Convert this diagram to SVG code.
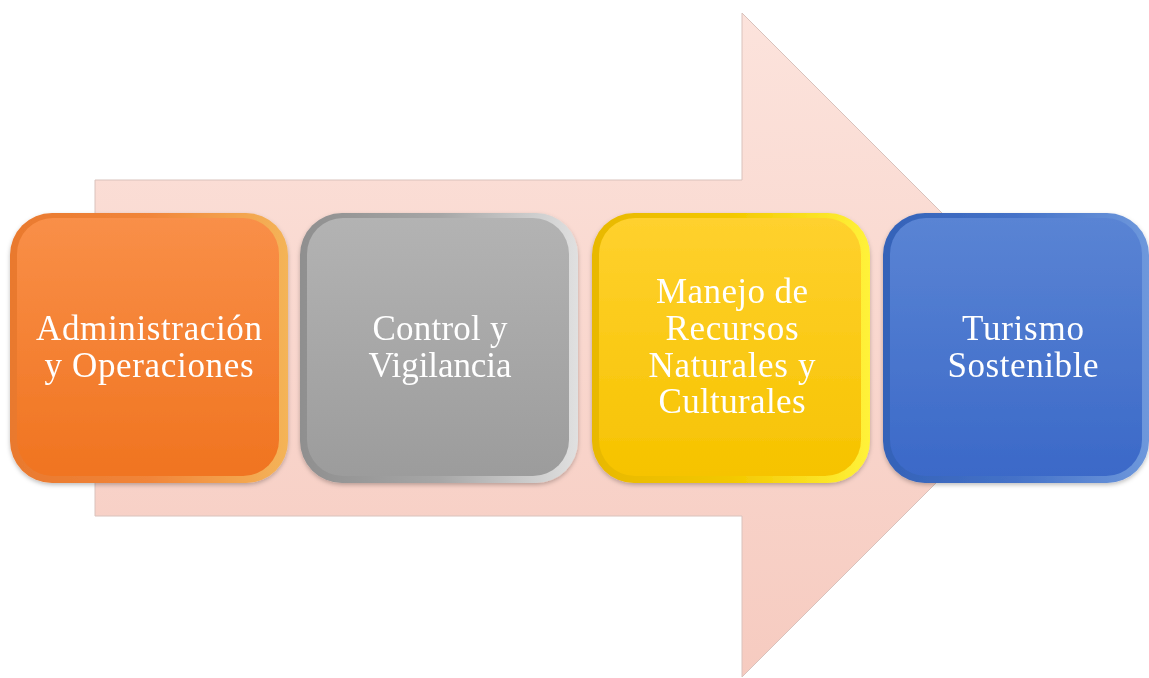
<svg xmlns="http://www.w3.org/2000/svg" width="1149" height="678" viewBox="0 0 1149 678">
<style>
.lbl{font-family:"Liberation Serif","DejaVu Serif",serif;font-size:35px;fill:#ffffff;text-anchor:middle}
</style>
<defs>
<linearGradient id="arrowG" x1="0" y1="0" x2="0" y2="1">
<stop offset="0" stop-color="#fce3dc"/><stop offset="1" stop-color="#f6cbc0"/>
</linearGradient>
<linearGradient id="orG" x1="0" y1="0" x2="0" y2="1"><stop offset="0" stop-color="#f98f48"/><stop offset="1" stop-color="#f07420"/></linearGradient>
<linearGradient id="orR" x1="0" y1="0" x2="1" y2="0"><stop offset="0" stop-color="#e9792e"/><stop offset="0.5" stop-color="#f1853a"/><stop offset="1" stop-color="#f4b458"/></linearGradient>
<linearGradient id="grG" x1="0" y1="0" x2="0" y2="1"><stop offset="0" stop-color="#b3b3b3"/><stop offset="1" stop-color="#9c9c9c"/></linearGradient>
<linearGradient id="grR" x1="0" y1="0" x2="1" y2="0"><stop offset="0" stop-color="#8f8f8f"/><stop offset="0.5" stop-color="#a6a6a6"/><stop offset="1" stop-color="#e0e0e0"/></linearGradient>
<linearGradient id="yeG" x1="0" y1="0" x2="0" y2="1"><stop offset="0" stop-color="#ffd12e"/><stop offset="1" stop-color="#f6c300"/></linearGradient>
<linearGradient id="yeR" x1="0" y1="0" x2="1" y2="0"><stop offset="0" stop-color="#e8b800"/><stop offset="0.5" stop-color="#f3c800"/><stop offset="1" stop-color="#fff23a"/></linearGradient>
<linearGradient id="blG" x1="0" y1="0" x2="0" y2="1"><stop offset="0" stop-color="#5a84d4"/><stop offset="1" stop-color="#3b69c8"/></linearGradient>
<linearGradient id="blR" x1="0" y1="0" x2="1" y2="0"><stop offset="0" stop-color="#3462b8"/><stop offset="0.5" stop-color="#4572c8"/><stop offset="1" stop-color="#6e98dc"/></linearGradient>
<filter id="sh" x="-10%" y="-10%" width="120%" height="120%"><feDropShadow dx="0" dy="2" stdDeviation="2" flood-color="#000" flood-opacity="0.25"/></filter>
</defs>
<g id="arrow">
<path d="M95,180 L742,180 L742,13 L1074,345 L742,677 L742,516 L95,516 Z" fill="url(#arrowG)" stroke="#d9c2bc" stroke-width="1"/>
</g>
<g id="node-admin" filter="url(#sh)">
<rect x="10" y="213" width="278" height="270" rx="42" fill="url(#orR)"/>
<rect x="17" y="218" width="262" height="258" rx="36" fill="url(#orG)"/>
<text class="lbl" x="149" y="340" textLength="226" lengthAdjust="spacing">Administración</text>
<text class="lbl" x="149" y="377" textLength="209" lengthAdjust="spacing">y Operaciones</text>
</g>
<g id="node-control" filter="url(#sh)">
<rect x="300" y="213" width="278" height="270" rx="42" fill="url(#grR)"/>
<rect x="307" y="218" width="262" height="258" rx="36" fill="url(#grG)"/>
<text class="lbl" x="440" y="340" textLength="135" lengthAdjust="spacing">Control y</text>
<text class="lbl" x="440" y="377" textLength="143" lengthAdjust="spacing">Vigilancia</text>
</g>
<g id="node-manejo" filter="url(#sh)">
<rect x="592" y="213" width="278" height="270" rx="42" fill="url(#yeR)"/>
<rect x="599" y="218" width="262" height="258" rx="36" fill="url(#yeG)"/>
<text class="lbl" x="732" y="303" textLength="152" lengthAdjust="spacing">Manejo de</text>
<text class="lbl" x="732" y="340" textLength="133" lengthAdjust="spacing">Recursos</text>
<text class="lbl" x="732" y="377" textLength="167" lengthAdjust="spacing">Naturales y</text>
<text class="lbl" x="732" y="413" textLength="147" lengthAdjust="spacing">Culturales</text>
</g>
<g id="node-turismo" filter="url(#sh)">
<rect x="883" y="213" width="266" height="270" rx="42" fill="url(#blR)"/>
<rect x="890" y="218" width="252" height="258" rx="36" fill="url(#blG)"/>
<text class="lbl" x="1023" y="340" textLength="122" lengthAdjust="spacing">Turismo</text>
<text class="lbl" x="1023" y="377" textLength="151" lengthAdjust="spacing">Sostenible</text>
</g>
<g id="connectors"></g>
</svg>
